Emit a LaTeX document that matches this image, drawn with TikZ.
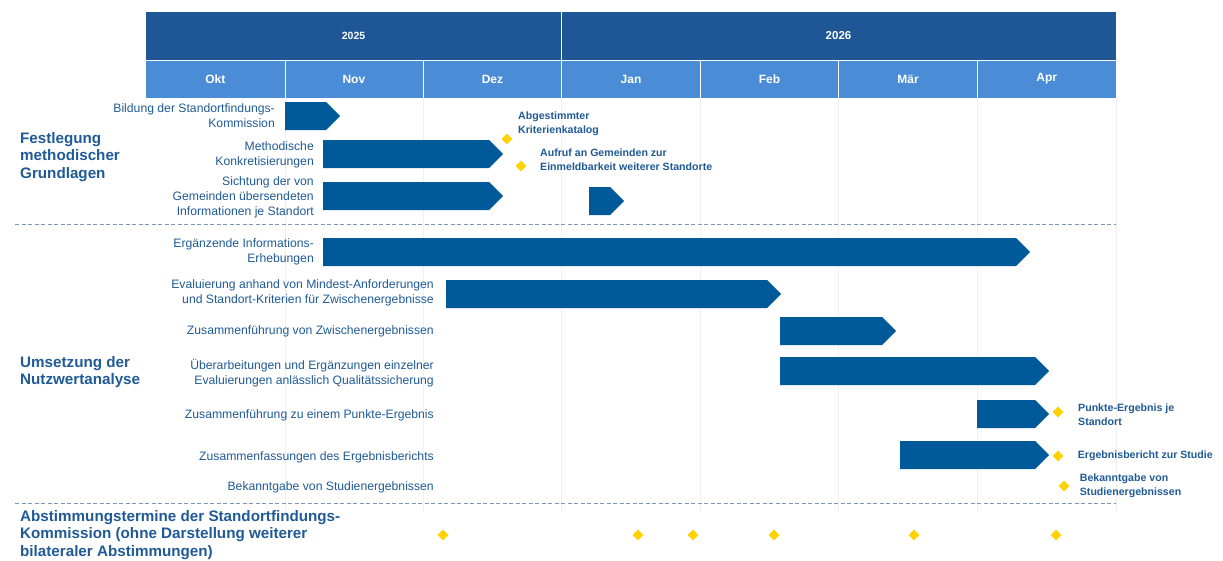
\documentclass[tikz,border=0pt]{standalone}
\usepackage{fontspec}
\setmainfont{Liberation Sans}
\usetikzlibrary{positioning,shapes.geometric}

\definecolor{yearblue}{HTML}{1F5796}
\definecolor{monthblue}{HTML}{4A8CD6}
\definecolor{barblue}{HTML}{005A9A}
\definecolor{textblue}{HTML}{1F5A96}
\definecolor{msyellow}{HTML}{FFD200}
\definecolor{gridgray}{HTML}{F0F0F0}
\definecolor{sepgray}{HTML}{8096B4}

% one bar of the chart: start, end (tip), top
\newcommand{\ganttbar}[3]{%
  \fill[barblue] (#1,#3) -- (#2-14,#3) -- (#2,#3+14) -- (#2-14,#3+28) -- (#1,#3+28) -- cycle;}

\begin{document}
\begin{tikzpicture}[x=1pt,y=-1pt,
    head/.style={text=white,font=\fontsize{12}{14}\selectfont\bfseries},
    task/.style={anchor=east,align=right,inner sep=0pt,text=textblue,
                 font=\fontsize{12.2}{15}\selectfont},
    phase/.style={anchor=west,align=left,inner sep=0pt,text=textblue,
                  font=\fontsize{15.2}{17.5}\selectfont\bfseries},
    mstext/.style={anchor=west,align=left,inner sep=0pt,text=textblue,
                   font=\fontsize{10.6}{14}\selectfont\bfseries},
    ms/.style={diamond,fill=msyellow,inner sep=0pt,minimum size=11pt},
    sep/.style={sepgray,dash pattern=on 4pt off 2.5pt}]
  \useasboundingbox (0,0) rectangle (1223,560);

  % grid
  \foreach \x in {285,423,561,700,838,977,1116}
    \draw[gridgray] (\x,98) -- (\x,512);

  % header
  \fill[yearblue] (146,12) rectangle (1116,60);
  \fill[monthblue] (146,60) rectangle (1116,98);
  \draw[white] (146,60) -- (1116,60);
  \draw[white] (561,12) -- (561,60);
  \foreach \x in {285,423,561,700,838,977}
    \draw[white] (\x,60) -- (\x,98);
  \node[head,font=\fontsize{10.5}{12}\selectfont\bfseries] (y1) at (353.5,36) {2025};
  \node[head,font=\fontsize{11.5}{12}\selectfont\bfseries] (y2) at (838.5,36) {2026};
  \foreach \m [count=\i] in {Okt,Nov,Dez,Jan,Feb,Mär,Apr}
    \node[head] (m\i) at ({146+138.57*(\i-0.5)},79) {\m};

  % separators
  \draw[sep] (15,224) -- (1116,224);
  \draw[sep] (15,503) -- (1116,503);

  % phases
  \node[phase] (p1) at (20,157) {Festlegung\\methodischer\\Grundlagen};
  \node[phase] (p2) at (20,372) {Umsetzung der\\Nutzwertanalyse};
  \node[phase] (p3) at (20,535) {Abstimmungstermine der Standortfindungs-\\Kommission (ohne Darstellung weiterer\\bilateraler Abstimmungen)};

  % tasks
  \node[task] (t1) at (275,116) {Bildung der Standortfindungs-\\Kommission};
  \node[task] (t2) at (314,155) {Methodische\\Konkretisierungen};
  \node[task] (t3) at (314,197) {Sichtung der von\\Gemeinden übersendeten\\Informationen je Standort};
  \node[task] (t4) at (314,252) {Ergänzende Informations-\\Erhebungen};
  \node[task] (t5) at (434,293) {Evaluierung anhand von Mindest-Anforderungen\\und Standort-Kriterien für Zwischenergebnisse};
  \node[task] (t6) at (434,331) {Zusammenführung von Zwischenergebnissen};
  \node[task] (t7) at (434,373) {Überarbeitungen und Ergänzungen einzelner\\Evaluierungen anlässlich Qualitätssicherung};
  \node[task] (t8) at (434,415) {Zusammenführung zu einem Punkte-Ergebnis};
  \node[task] (t9) at (434,457) {Zusammenfassungen des Ergebnisberichts};
  \node[task] (t10) at (434,487) {Bekanntgabe von Studienergebnissen};

  % bars
  \ganttbar{285}{340}{102}
  \ganttbar{323}{503}{140}
  \ganttbar{323}{503}{182}
  \ganttbar{589}{624}{187}
  \ganttbar{323}{1030}{238}
  \ganttbar{446}{781}{280}
  \ganttbar{780}{896}{317}
  \ganttbar{780}{1049}{357}
  \ganttbar{977}{1049}{400}
  \ganttbar{900}{1049}{441}

  % milestones
  \node[ms] (d1) at (507,139) {};
  \node[mstext] (e1) at (518,124) {Abgestimmter\\Kriterienkatalog};
  \node[ms] (d2) at (521,166) {};
  \node[mstext] (e2) at (540,160) {Aufruf an Gemeinden zur\\Einmeldbarkeit weiterer Standorte};
  \node[ms] (d3) at (1058,412) {};
  \node[mstext] (e3) at (1078,415) {Punkte-Ergebnis je\\Standort};
  \node[ms] (d4) at (1058,456) {};
  \node[mstext,right=14pt of d4] (e4) {Ergebnisbericht zur Studie};
  \node[ms] (d5) at (1064,486) {};
  \node[mstext,right=10pt of d5] (e5) {Bekanntgabe von\\Studienergebnissen};

  % meetings
  \foreach \x [count=\i] in {443,638,693,774,914,1056}
    \node[ms] (k\i) at (\x,535) {};
\end{tikzpicture}
\end{document}
